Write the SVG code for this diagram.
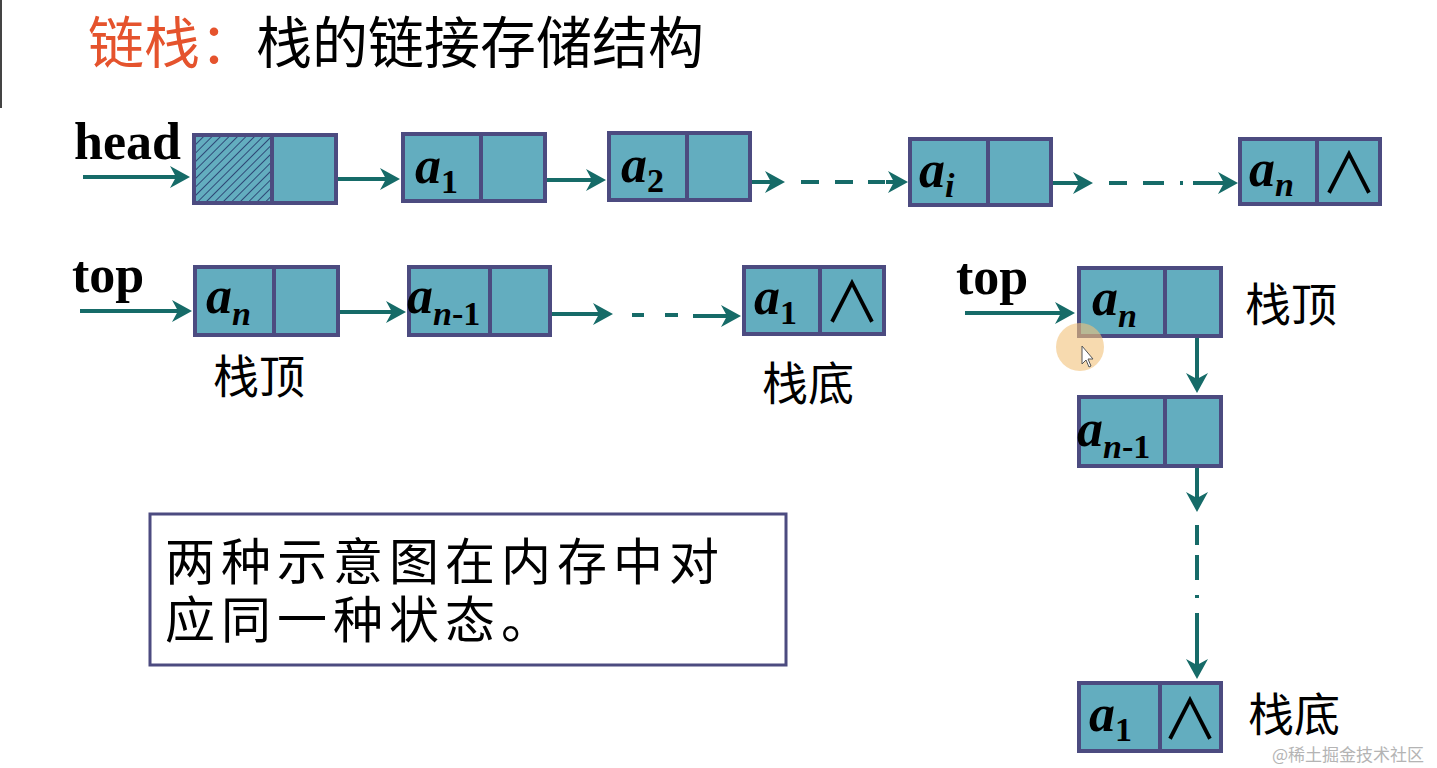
<svg xmlns="http://www.w3.org/2000/svg" width="1437" height="768" viewBox="0 0 1437 768">
<style>
.box{fill:#63adbf;stroke:#4c4b80;stroke-width:4}
.div{stroke:#4c4b80;stroke-width:4}
.ar{stroke:#166b68;stroke-width:4;fill:none;marker-end:url(#ah)}
.ln{stroke:#166b68;stroke-width:4;fill:none}
.lab{font-family:"Liberation Serif",serif;font-weight:bold;font-style:italic;font-size:52px;fill:#000}
.sub{font-size:34px}
.up{font-style:normal}
.kw{font-family:"Liberation Serif",serif;font-weight:bold;font-size:52px;fill:#000}
.cn{font-family:"Noto Sans CJK SC",sans-serif;font-size:46px;fill:#000}
.nil{font-family:"Noto Sans CJK SC",sans-serif;font-size:56px;fill:#000}
.note{font-family:"Noto Sans CJK SC",sans-serif;font-size:50px;letter-spacing:6px;fill:#000}
</style>
<defs>
<marker id="ah" markerUnits="userSpaceOnUse" viewBox="0 -11 22 22" refX="10" refY="0" markerWidth="22" markerHeight="22" orient="auto">
<path d="M0,-11 L20,0 L0,11 L6,0 z" fill="#166b68"/>
</marker>
<pattern id="hatch" patternUnits="userSpaceOnUse" width="6" height="6" patternTransform="rotate(45)">
<rect width="6" height="6" fill="#63adbf"/>
<line x1="0" y1="0" x2="0" y2="6" stroke="#2f4a78" stroke-width="2"/>
</pattern>
</defs>
<rect width="1437" height="768" fill="#fff"/>
<line x1="1" y1="0" x2="1" y2="108" stroke="#444" stroke-width="2"/>
<g id="title">
<text x="88" y="63" font-family="'Noto Sans CJK SC',sans-serif" font-size="56"><tspan fill="#e5532d">链栈：</tspan><tspan fill="#000">栈的链接存储结构</tspan></text>
</g>
<g id="connectors">
<line class="ar" x1="83" y1="177" x2="180" y2="177"/>
<line class="ar" x1="315" y1="179" x2="390" y2="179"/>
<line class="ar" x1="525" y1="180" x2="596" y2="180"/>
<line class="ar" x1="735" y1="182" x2="775" y2="182"/>
<path class="ln" d="M801,182H819M835,182H853M868,182H885"/>
<line class="ar" x1="886" y1="182" x2="898" y2="182"/>
<line class="ar" x1="1043" y1="183" x2="1083" y2="183"/>
<path class="ln" d="M1109,183H1127M1143,183H1164M1180,183H1183"/>
<line class="ar" x1="1193" y1="183" x2="1228" y2="183"/>
<line class="ar" x1="80" y1="311" x2="182" y2="311"/>
<line class="ar" x1="320" y1="312" x2="396" y2="312"/>
<line class="ar" x1="530" y1="314" x2="603" y2="314"/>
<path class="ln" d="M632,315H644M665,315H678"/>
<line class="ar" x1="693" y1="316" x2="731" y2="316"/>
<line class="ar" x1="965" y1="313" x2="1065" y2="313"/>
<line class="ar" x1="1197" y1="325" x2="1197" y2="383"/>
<line class="ar" x1="1197" y1="452" x2="1197" y2="502"/>
<path class="ln" d="M1197,525V545M1197,555V580M1197,595V598"/>
<line class="ar" x1="1197" y1="613" x2="1197" y2="669"/>
</g>
<g id="head-label"><text class="kw" x="74" y="159">head</text></g>
<g id="node-head">
<rect class="box" x="194" y="135" width="142" height="68"/>
<rect x="196" y="137" width="74" height="64" fill="url(#hatch)"/>
<line class="div" x1="272" y1="135" x2="272" y2="203"/>
</g>
<g id="node-a1">
<rect class="box" x="403" y="134" width="142" height="67"/>
<line class="div" x1="481" y1="134" x2="481" y2="201"/>
<text class="lab" x="415" y="183">a<tspan class="sub up" dy="10">1</tspan></text>
</g>
<g id="node-a2">
<rect class="box" x="609" y="133" width="141" height="67"/>
<line class="div" x1="687" y1="133" x2="687" y2="200"/>
<text class="lab" x="621" y="182">a<tspan class="sub up" dy="10">2</tspan></text>
</g>
<g id="node-ai">
<rect class="box" x="910" y="139" width="141" height="66"/>
<line class="div" x1="988" y1="139" x2="988" y2="205"/>
<text class="lab" x="919" y="187">a<tspan class="sub" dy="10">i</tspan></text>
</g>
<g id="node-an">
<rect class="box" x="1240" y="139" width="140" height="65"/>
<line class="div" x1="1317" y1="139" x2="1317" y2="204"/>
<text class="lab" x="1249" y="186">a<tspan class="sub" dy="10">n</tspan></text>
<text class="nil" x="1349" y="193" text-anchor="middle">∧</text>
</g>
<g id="top-left-label"><text class="kw" x="72" y="292">top</text></g>
<g id="node-l-an">
<rect class="box" x="195" y="267" width="143" height="68"/>
<line class="div" x1="274" y1="267" x2="274" y2="335"/>
<text class="lab" x="206" y="313">a<tspan class="sub" dy="12">n</tspan></text>
</g>
<g id="node-l-an1">
<rect class="box" x="409" y="267" width="141" height="68"/>
<line class="div" x1="490" y1="267" x2="490" y2="335"/>
<text class="lab" x="407" y="313">a<tspan class="sub" dy="12">n</tspan><tspan class="sub up">-1</tspan></text>
</g>
<g id="node-l-a1">
<rect class="box" x="744" y="267" width="140" height="67"/>
<line class="div" x1="820" y1="267" x2="820" y2="334"/>
<text class="lab" x="754" y="314">a<tspan class="sub up" dy="10">1</tspan></text>
<text class="nil" x="852" y="322" text-anchor="middle">∧</text>
</g>
<g id="l-labels">
<text class="cn" x="213" y="393">栈顶</text>
<text class="cn" x="762" y="400">栈底</text>
</g>
<g id="top-right-label"><text class="kw" x="956" y="294">top</text></g>
<g id="node-r-an">
<rect class="box" x="1079" y="268" width="142" height="68"/>
<line class="div" x1="1165" y1="268" x2="1165" y2="336"/>
<text class="lab" x="1092" y="315">a<tspan class="sub" dy="12">n</tspan></text>
</g>
<g id="node-r-an1">
<rect class="box" x="1079" y="397" width="142" height="69"/>
<line class="div" x1="1165" y1="397" x2="1165" y2="466"/>
<text class="lab" x="1077" y="446">a<tspan class="sub" dy="12">n</tspan><tspan class="sub up">-1</tspan></text>
</g>
<g id="node-r-a1">
<rect class="box" x="1079" y="683" width="142" height="68"/>
<line class="div" x1="1160" y1="683" x2="1160" y2="751"/>
<text class="lab" x="1089" y="731">a<tspan class="sub up" dy="10">1</tspan></text>
<text class="nil" x="1190" y="739" text-anchor="middle">∧</text>
</g>
<g id="r-labels">
<text class="cn" x="1245" y="321">栈顶</text>
<text class="cn" x="1248" y="731">栈底</text>
</g>
<g id="cursor">
<circle cx="1080" cy="347" r="24" fill="#f2c27a" fill-opacity="0.6"/>
<path d="M1082,346 L1082,364 L1086,360 L1089,367 L1091,366 L1088,359 L1093,359 z" fill="#fff" stroke="#555" stroke-width="1"/>
</g>
<g id="note">
<rect x="150" y="514" width="636" height="151" fill="#fff" stroke="#4c4b80" stroke-width="3"/>
<text class="note" x="165" y="580">两种示意图在内存中对</text>
<text class="note" x="165" y="638">应同一种状态。</text>
</g>
<g id="watermark">
<text x="1272" y="761" font-family="'Noto Sans CJK SC',sans-serif" font-size="17" fill="#b4b4b4">@稀土掘金技术社区</text>
</g>
</svg>
